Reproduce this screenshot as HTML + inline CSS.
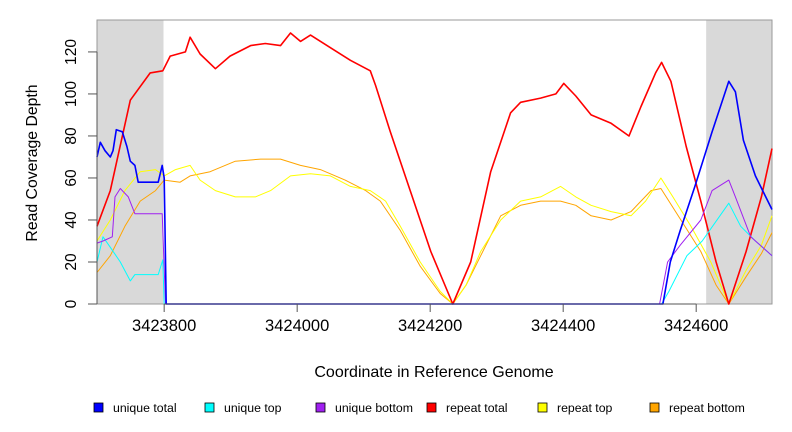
<!DOCTYPE html>
<html><head><meta charset="utf-8"><style>
html,body{margin:0;padding:0;background:#fff;}
svg{display:block;font-family:"Liberation Sans",Arial,sans-serif;}
</style></head><body>
<svg id="chart" width="792" height="432" viewBox="0 0 792 432" xmlns="http://www.w3.org/2000/svg"></svg>
<script>
const xTicks=[3423800,3424000,3424200,3424400,3424600];
const yTicks=[0,20,40,60,80,100,120];
const shadeRegions=[[3423699,3423799],[3424615,3424714]];
const seriesNames=["unique total","unique top","unique bottom","repeat total","repeat top","repeat bottom"];
const seriesColors=["#0000ff","#00ffff","#a020f0","#ff0000","#ffff00","#ffa500"];
const redX=[3423699,3423719,3423749,3423779,3423798,3423809,3423832,3423839,3423854,3423877,3423899,3423930,3423952,3423975,3423990,3424005,3424020,3424050,3424080,3424110,3424118,3424140,3424170,3424201,3424234,3424261,3424291,3424321,3424336,3424366,3424389,3424401,3424419,3424442,3424472,3424499,3424517,3424539,3424548,3424562,3424585,3424607,3424630,3424649,3424675,3424698,3424714];
const redY=[37,54,97,110,111,118,120,127,119,112,118,123,124,123,129,125,128,122,116,111,104,82,54,25,0,20,63,91,96,98,100,105,99,90,86,80,94,110,115,106,75,49,20,0,25,51,74];
const yelX=[3423699,3423719,3423741,3423764,3423787,3423800,3423817,3423839,3423854,3423877,3423907,3423937,3423960,3423990,3424020,3424050,3424080,3424110,3424133,3424155,3424185,3424215,3424234,3424254,3424276,3424306,3424336,3424366,3424396,3424419,3424442,3424472,3424502,3424524,3424547,3424565,3424592,3424622,3424649,3424675,3424698,3424714];
const yelY=[30,40,54,63,64,61,64,66,59,54,51,51,54,61,62,61,56,54,49,37,20,6,0,9,25,40,49,51,56,51,47,44,42,49,60,51,37,20,0,16,28,42];
const orX=[3423699,3423719,3423741,3423764,3423787,3423800,3423824,3423839,3423869,3423907,3423945,3423975,3424005,3424035,3424072,3424103,3424125,3424155,3424185,3424215,3424234,3424254,3424276,3424306,3424336,3424366,3424396,3424419,3424442,3424472,3424502,3424532,3424547,3424577,3424607,3424630,3424649,3424675,3424698,3424714];
const orY=[15,23,37,49,54,59,58,61,63,68,69,69,66,64,59,54,49,35,18,5,0,9,23,42,47,49,49,47,42,40,44,54,55,40,25,9,0,13,24,34];
const blueX=[3423699,3423704,3423711,3423719,3423723,3423728,3423737,3423744,3423749,3423756,3423761,3423791,3423797,3423800,3423803,3424550,3424561,3424576,3424598,3424624,3424649,3424659,3424671,3424689,3424714];
const blueY=[70,77,73,70,73,83,82,75,68,66,58,58,66,60,0,0,20,35,56,82,106,101,78,61,45];
const purX=[3423699,3423708,3423722,3423726,3423734,3423746,3423756,3423797,3423802,3424545,3424557,3424576,3424607,3424624,3424649,3424659,3424682,3424714];
const purY=[29,30,32,51,55,51,43,43,0,0,20,28,40,54,59,51,32,23];
const cyX=[3423699,3423708,3423719,3423734,3423749,3423756,3423791,3423798,3423800,3424548,3424559,3424586,3424609,3424649,3424667,3424689,3424714];
const cyY=[20,32,27,20,11,14,14,21,0,0,6,23,30,48,37,30,23];
const seriesX=[blueX,cyX,purX,redX,yelX,orX];
const seriesY=[blueY,cyY,purY,redY,yelY,orY];
const seriesW=[1.6,1,1,1.6,1,1];
const drawOrder=[5,4,3,1,2,0];

const L=97,R=772,T=20,B=304;
const xMin=3423699,xMax=3424714,yMin=0,yMax=135.2;
const sx=v=>L+(v-xMin)/(xMax-xMin)*(R-L);
const sy=v=>B-(v-yMin)/(yMax-yMin)*(B-T);
const svg=document.getElementById('chart');
const NS='http://www.w3.org/2000/svg';
function mk(tag,attrs,parent){const e=document.createElementNS(NS,tag);for(const k in attrs)e.setAttribute(k,attrs[k]);(parent||svg).appendChild(e);return e;}

shadeRegions.forEach((r,i)=>{
  const e=mk('rect',{x:sx(r[0]),y:T,width:sx(r[1])-sx(r[0]),height:B-T,fill:'#d9d9d9'});
  
  
});
const frame=mk('rect',{x:L,y:T,width:R-L,height:B-T,fill:'none',stroke:'#999','stroke-width':1});



drawOrder.forEach(i=>{
  const xs=seriesX[i],ys=seriesY[i];
  const pts=xs.map((x,j)=>sx(x).toFixed(1)+','+sy(ys[j]).toFixed(1)).join(' ');
  const p=mk('polyline',{points:pts,fill:'none',stroke:seriesColors[i],'stroke-width':seriesW[i],'stroke-linejoin':'round'});
  
  
});

// y axis
const ya=mk('line',{x1:L,y1:sy(0),x2:L,y2:sy(120),stroke:'#555'});


yTicks.forEach(v=>{
  mk('line',{x1:L-9,y1:sy(v),x2:L,y2:sy(v),stroke:'#555'});
  const t=mk('text',{x:0,y:0,'font-size':15.6,'text-anchor':'middle',transform:`translate(${L-21},${sy(v)}) rotate(-90)`});
  t.textContent=v;
  
  
});
// x axis
const xa=mk('line',{x1:sx(xTicks[0]),y1:B,x2:sx(xTicks[xTicks.length-1]),y2:B,stroke:'#555'});


xTicks.forEach(v=>{
  mk('line',{x1:sx(v),y1:B,x2:sx(v),y2:B+8,stroke:'#555'});
  const t=mk('text',{x:sx(v),y:B+27,'font-size':16.5,'text-anchor':'middle'});
  t.textContent=v;
  
  
});
const xt=mk('text',{x:434,y:377,'font-size':16,'text-anchor':'middle'});
xt.textContent='Coordinate in Reference Genome';


const yt=mk('text',{x:0,y:0,'font-size':15.8,'text-anchor':'middle',transform:'translate(37,163) rotate(-90)'});
yt.textContent='Read Coverage Depth';



const legX=[94,205,316,427,538,650];
seriesNames.forEach((n,i)=>{
  const g=mk('g',{});
  
  
  mk('rect',{x:legX[i],y:403,width:9,height:9,fill:seriesColors[i],stroke:'#000','stroke-width':0.8},g);
  const t=mk('text',{x:legX[i]+19,y:412,'font-size':12.3},g);
  t.textContent=n;
});
</script>
</body></html>
